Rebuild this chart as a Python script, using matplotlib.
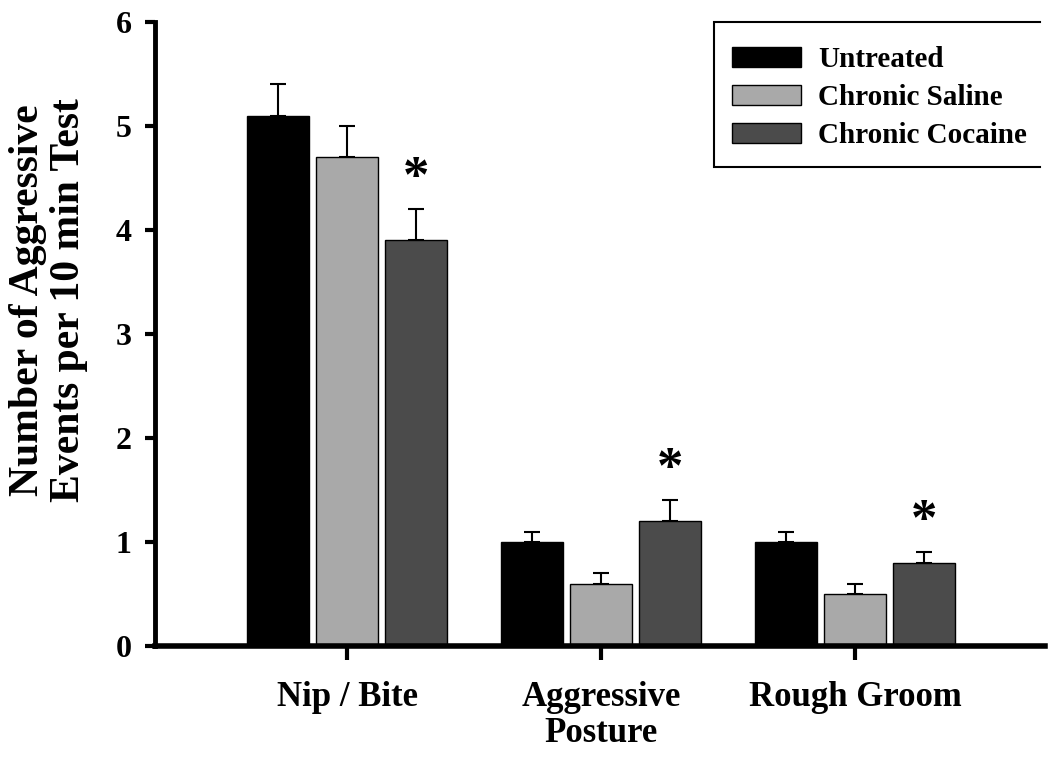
import matplotlib
matplotlib.use("Agg")
import matplotlib.pyplot as plt
from matplotlib.lines import Line2D
import numpy as np

categories = ["Nip / Bite", "Aggressive\nPosture", "Rough Groom"]
series_names = ["Untreated", "Chronic Saline", "Chronic Cocaine"]
untreated = [5.1, 1.0, 1.0]
saline = [4.7, 0.6, 0.5]
cocaine = [3.9, 1.2, 0.8]
untreated_err = [0.3, 0.1, 0.1]
saline_err = [0.3, 0.1, 0.1]
cocaine_err = [0.3, 0.2, 0.1]
significant = [True, True, True]  # cocaine bars marked with *
yticks = [0, 1, 2, 3, 4, 5, 6]

plt.rcParams['font.family'] = ['Liberation Serif', 'DejaVu Serif']
plt.rcParams['font.weight'] = 'bold'

fig = plt.figure(figsize=(10.5, 7.59), dpi=100)
ax = fig.add_axes([155/1050, 1-646/759, (1045-155)/1050, (646-22)/759])

x = np.arange(len(categories))
w = 0.244
step = 0.272
colors = ["#000000", "#a9a9a9", "#4b4b4b"]
vals = [untreated, saline, cocaine]
errs = [untreated_err, saline_err, cocaine_err]
for i, (v, e, c, n) in enumerate(zip(vals, errs, colors, series_names)):
    pos = x + (i - 1) * step
    ax.bar(pos, v, width=w, color=c, edgecolor="black", linewidth=1.0, label=n, zorder=2)
    ax.errorbar(pos, v, yerr=[np.zeros(len(v)), e], fmt="none", ecolor="black",
                elinewidth=1.5, capsize=6, capthick=1.5, zorder=1)

for j in range(len(categories)):
    if significant[j]:
        top = cocaine[j] + cocaine_err[j]
        ax.text(x[j] + step, top + 0.29, "*", ha="center", va="center",
                fontsize=38, fontweight="bold")

ax.set_ylim(0, 6)
ax.set_xlim(-0.756, 2.748)
ax.set_yticks(yticks)
ax.set_yticklabels([str(t) for t in yticks], fontsize=23, fontweight="bold")
ax.set_xticks(x)
ax.set_xticklabels(categories, fontsize=25, fontweight="bold", linespacing=1.15)
ax.tick_params(axis="y", direction="out", length=7, width=3, pad=10)
ax.tick_params(axis="x", direction="out", length=10, width=3, pad=15)

for s in ["top", "right"]:
    ax.spines[s].set_visible(False)
ax.spines["left"].set_linewidth(3.5)
ax.spines["bottom"].set_linewidth(4)

ax.set_ylabel("Number of Aggressive\nEvents per 10 min Test", fontsize=30,
              fontweight="bold", linespacing=1.1)
ax.yaxis.set_label_coords((88 - 155) / 890, (646 - 300) / 624)

# legend box: open outline (right side cut off, as in the reference)
fig.add_artist(Line2D([1040/1050, 714/1050, 714/1050, 1040/1050],
                      [1-22/759, 1-22/759, 1-167/759, 1-167/759],
                      transform=fig.transFigure, color="black", linewidth=1.5,
                      solid_joinstyle="miter"))
leg = ax.legend(loc="upper left", bbox_to_anchor=(714/1050, 1-28/759),
                bbox_transform=fig.transFigure, borderaxespad=0,
                fontsize=21, frameon=False,
                handlelength=2.35, handleheight=0.66, borderpad=0.62,
                labelspacing=0.38, handletextpad=0.6)
for t in leg.get_texts():
    t.set_fontweight("bold")

fig.savefig("out.png", dpi=100, facecolor="white")
